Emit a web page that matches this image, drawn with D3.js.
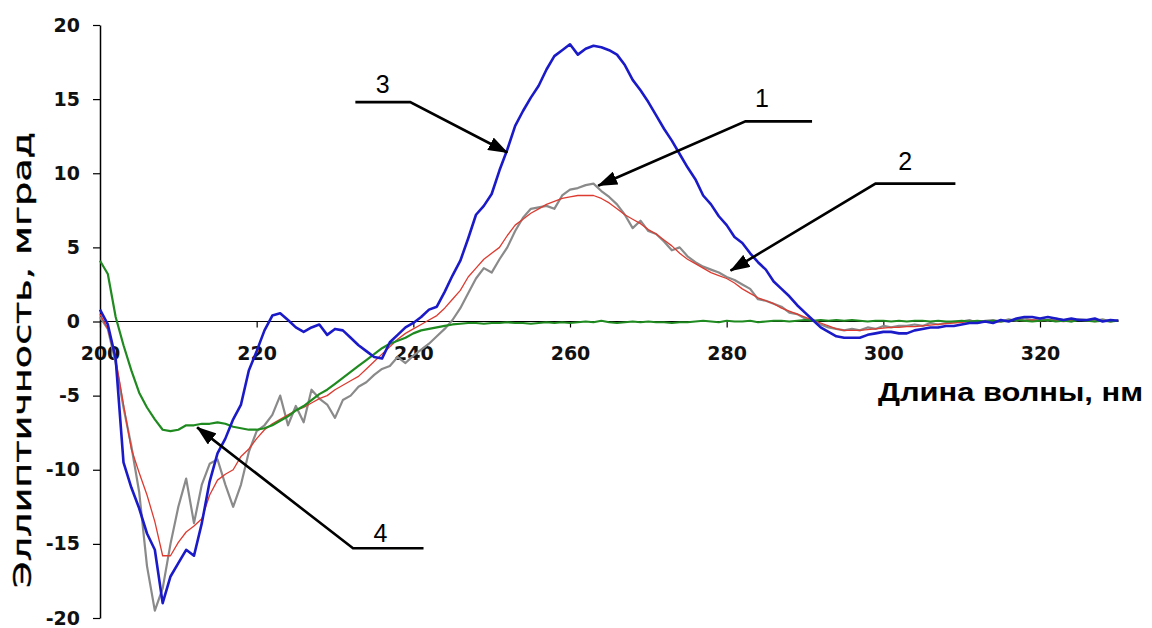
<!DOCTYPE html>
<html>
<head>
<meta charset="utf-8">
<script src="https://cdn.jsdelivr.net/npm/d3@7"></script>
<style>
  body { margin: 0; background: #fff; }
  .tick text { font-family: "DejaVu Sans", Verdana, sans-serif; font-weight: bold; font-size: 19px; fill: #111; }
</style>
</head>
<body>
<div id="chart"></div>
<script>
// wavelength grid, nm
var wavelength = d3.range(200, 331);

// curve 3 (blue)
var curve3 = [
  0.8, -0.2, -2.5, -9.5, -11.2, -12.6, -14.3, -15.4, -19.0, -17.2,
  -16.3, -15.4, -15.8, -13.6, -10.8, -8.9, -7.9, -6.6, -5.6, -3.3,
  -2.0, -0.6, 0.4, 0.55, 0.1, -0.4, -0.7, -0.4, -0.2, -0.9,
  -0.5, -0.6, -1.1, -1.6, -2.0, -2.4, -2.5, -1.4, -0.9, -0.4,
  -0.1, 0.3, 0.8, 1.0, 2.0, 3.1, 4.1, 5.6, 7.2, 7.8,
  8.6, 10.2, 11.6, 13.2, 14.2, 15.1, 15.9, 17.0, 17.9, 18.3,
  18.7, 18.0, 18.4, 18.6, 18.5, 18.3, 18.0, 17.3, 16.3, 15.6,
  14.8, 13.9, 13.0, 12.2, 11.3, 10.4, 9.6, 8.5, 7.9, 7.1,
  6.5, 5.7, 5.3, 4.6, 4.0, 3.5, 2.7, 2.2, 1.7, 1.1,
  0.6, 0.1, -0.4, -0.7, -1.0, -1.1, -1.1, -1.1, -0.9, -0.8,
  -0.7, -0.7, -0.8, -0.8, -0.6, -0.5, -0.4, -0.4, -0.3, -0.3,
  -0.2, -0.1, -0.1, 0.0, -0.1, 0.1, 0.0, 0.2, 0.3, 0.3,
  0.2, 0.3, 0.2, 0.1, 0.2, 0.1, 0.1, 0.2, 0.0, 0.1,
  0.05
];

// curve 2 (red)
var curve2 = [
  0.5, -0.5, -2.5, -5.6, -8.6, -10.2, -11.7, -13.5, -15.8, -15.8,
  -14.9, -14.2, -13.8, -13.3, -11.7, -10.7, -10.3, -10.0, -9.1, -8.6,
  -7.9, -7.3, -6.9, -6.6, -6.3, -6.0, -5.8, -5.5, -5.2, -5.0,
  -4.6, -4.3, -4.0, -3.7, -3.2, -2.7, -2.2, -1.7, -1.2, -0.8,
  -0.5, -0.2, 0.1, 0.4, 0.9, 1.5, 2.1, 3.0, 3.6, 4.2,
  4.6, 5.0, 5.8, 6.5, 6.9, 7.3, 7.6, 7.9, 8.1, 8.3,
  8.4, 8.5, 8.5, 8.5, 8.3, 8.0, 7.6, 7.2, 6.9, 6.6,
  6.2, 5.9, 5.5, 5.1, 4.6, 4.2, 3.9, 3.6, 3.3, 3.1,
  2.9, 2.6, 2.2, 1.9, 1.6, 1.4, 1.2, 0.9, 0.7, 0.5,
  0.3, 0.1, -0.1, -0.3, -0.5, -0.6, -0.6, -0.6, -0.55, -0.5,
  -0.45, -0.4, -0.4, -0.35, -0.35, -0.3, -0.25, -0.2, -0.15, -0.1,
  -0.05, 0.0, 0.05, 0.0, -0.05, 0.0, 0.05, 0.1, 0.05, 0.1,
  0.05, 0.1, 0.05, 0.0, 0.05, 0.1, 0.05, 0.0, 0.05, 0.0,
  0.05
];

// curve 1 (grey)
var curve1 = [
  0.3, -0.5, -2.8, -5.8, -8.4, -11.5, -16.5, -19.5, -18.0, -15.0,
  -12.5, -10.6, -13.6, -11.0, -9.6, -9.3, -11.0, -12.5, -11.0, -8.8,
  -7.4, -7.0, -6.3, -5.0, -7.0, -5.7, -6.8, -4.6, -5.2, -5.6,
  -6.5, -5.3, -5.0, -4.4, -4.1, -3.6, -3.2, -3.0, -2.4, -2.8,
  -2.3, -1.9, -1.5, -1.0, -0.5, 0.1, 0.9, 1.9, 2.9, 3.6,
  3.3, 4.2, 5.0, 6.1, 7.0, 7.6, 7.7, 7.8, 7.6, 8.5,
  8.9, 9.0, 9.2, 9.3, 8.8, 8.4, 7.9, 7.2, 6.3, 6.8,
  6.1, 5.9, 5.4, 4.8, 5.0, 4.4, 4.0, 3.7, 3.5, 3.3,
  3.0, 2.8, 2.5, 2.2, 1.5, 1.4, 1.2, 1.0, 0.6, 0.5,
  0.2, 0.1, -0.2, -0.4, -0.5, -0.6, -0.5, -0.6, -0.4, -0.5,
  -0.3, -0.4, -0.3, -0.3, -0.2, -0.3, -0.1, -0.2, -0.1, 0.0,
  0.0, 0.1, -0.1, 0.05, 0.1, 0.0, 0.15, 0.05, 0.2, 0.1,
  0.15, 0.05, 0.2, 0.1, 0.0, 0.15, 0.1, 0.05, 0.15, 0.0,
  0.1
];

// curve 4 (green)
var curve4 = [
  4.1, 3.2, 0.3, -1.6, -3.3, -4.8, -5.8, -6.6, -7.3, -7.4,
  -7.3, -7.0, -7.0, -6.9, -6.9, -6.8, -6.9, -7.1, -7.2, -7.3,
  -7.3, -7.2, -7.0, -6.7, -6.4, -6.0, -5.7, -5.3, -4.9, -4.6,
  -4.2, -3.8, -3.4, -3.0, -2.6, -2.2, -1.8, -1.5, -1.3, -1.1,
  -0.8, -0.6, -0.5, -0.4, -0.3, -0.2, -0.15, -0.1, -0.1, -0.15,
  -0.1, -0.1, -0.05, -0.1, -0.1, -0.15, -0.1, -0.05, -0.1, -0.05,
  -0.1, -0.05, 0.0, -0.05, 0.05, -0.05, -0.1, -0.05, 0.0, -0.05,
  0.0, -0.05, -0.05, -0.1, -0.05, -0.05, 0.0, 0.05, 0.0, -0.05,
  0.05, 0.0, 0.0, 0.05, -0.05, 0.0, 0.05, 0.05, 0.0, 0.05,
  0.1, 0.05, 0.1, 0.05, 0.1, 0.05, 0.1, 0.05, 0.0, 0.05,
  0.05, 0.0, 0.05, 0.0, 0.05, 0.05, 0.0, 0.05, 0.0, 0.0,
  0.05, 0.0, 0.05, 0.0, 0.05, 0.0, 0.05, 0.1, 0.05, 0.0,
  0.05, 0.1, 0.0, 0.05, 0.0, 0.1, 0.05, 0.0, 0.05, 0.0,
  0.05
];

var xTicks = [200, 220, 240, 260, 280, 300, 320];
var yTicks = [-20, -15, -10, -5, 0, 5, 10, 15, 20];

// callout labels: text, label position, elbow, end of shelf, arrow tip (nm, value)
var calloutText = ["3", "1", "2", "4"];
var calloutLabel = [[236.1, 16.0], [284.5, 15.1], [302.8, 10.8], [235.8, -14.3]];
var calloutShelf = [[232.6, 239.6, 14.8], [290.9, 282.4, 13.5], [309.2, 299.0, 9.3], [241.3, 232.3, -15.3]];
var calloutTip = [[252.0, 11.4], [263.6, 9.16], [280.5, 3.43], [212.4, -7.14]];

var svgWidth = 1152, svgHeight = 628;

var svg = d3.select("#chart").append("svg")
    .attr("width", svgWidth)
    .attr("height", svgHeight);

var x = d3.scaleLinear().domain([200, 320]).range([100, 1040]);
var y = d3.scaleLinear().domain([-20, 20]).range([618, 25]);

// arrow head
svg.append("defs").append("marker")
    .attr("id", "arrow")
    .attr("markerUnits", "userSpaceOnUse")
    .attr("viewBox", "0 0 20 14")
    .attr("markerWidth", 20)
    .attr("markerHeight", 14)
    .attr("refX", 19)
    .attr("refY", 7)
    .attr("orient", "auto")
  .append("path")
    .attr("d", "M0,0 L20,7 L0,14 Z")
    .attr("fill", "#000");

// zero line
svg.append("line")
    .attr("x1", x(200)).attr("x2", x(330))
    .attr("y1", y(0)).attr("y2", y(0))
    .attr("stroke", "#000").attr("stroke-width", 1.2);

// x ticks sit on the zero line
var xAxis = svg.append("g")
    .attr("transform", `translate(0, ${y(0)})`)
    .call(d3.axisBottom(x).tickValues(xTicks).tickSize(6).tickPadding(19).tickSizeOuter(0).tickFormat(d => String(d)));
xAxis.select(".domain").remove();
xAxis.selectAll(".tick line").attr("stroke", "#000").attr("stroke-width", 1.2);

var yAxis = svg.append("g")
    .attr("transform", `translate(${x(200)}, 0)`)
    .call(d3.axisLeft(y).tickValues(yTicks).tickSize(7).tickPadding(13).tickSizeOuter(0).tickFormat(d => String(d)));
yAxis.select(".domain").attr("stroke", "#000").attr("stroke-width", 1.5);
yAxis.selectAll(".tick line").attr("stroke", "#000").attr("stroke-width", 1.2);

var line = d3.line()
    .x((d, i) => x(wavelength[i]))
    .y(d => y(d));

var series = [
  { values: curve1, color: "#8a8a8a", width: 2.2 },
  { values: curve2, color: "#dd3b30", width: 1.3 },
  { values: curve4, color: "#1f8a1f", width: 2.2 },
  { values: curve3, color: "#1a1ac8", width: 2.6 }
];

svg.selectAll(".curve")
    .data(series)
    .enter()
    .append("path")
    .attr("class", "curve")
    .attr("d", d => line(d.values))
    .attr("fill", "none")
    .attr("stroke", d => d.color)
    .attr("stroke-width", d => d.width)
    .attr("stroke-linejoin", "round");

// callouts
calloutText.forEach(function(t, i) {
  var s = calloutShelf[i], tip = calloutTip[i];
  svg.append("polyline")
      .attr("points", [[x(s[0]), y(s[2])], [x(s[1]), y(s[2])], [x(tip[0]), y(tip[1])]].map(p => p.join(",")).join(" "))
      .attr("fill", "none")
      .attr("stroke", "#000")
      .attr("stroke-width", 2.6)
      .attr("marker-end", "url(#arrow)");
  svg.append("text")
      .attr("x", x(calloutLabel[i][0]))
      .attr("y", y(calloutLabel[i][1]))
      .attr("text-anchor", "middle")
      .attr("dominant-baseline", "central")
      .attr("font-family", "Liberation Sans, Arial, sans-serif")
      .attr("font-size", 25)
      .text(t);
});

// axis titles
svg.append("text")
    .attr("transform", "translate(31, 360) rotate(-90)")
    .attr("text-anchor", "middle")
    .attr("font-family", "DejaVu Sans, Verdana, sans-serif")
    .attr("font-size", 25)
    .attr("stroke", "#000")
    .attr("stroke-width", 0.4)
    .attr("textLength", 456)
    .attr("lengthAdjust", "spacingAndGlyphs")
    .text("Эллиптичность, мград");

svg.append("text")
    .attr("x", 878)
    .attr("y", 401)
    .attr("font-family", "Liberation Sans, Arial, sans-serif")
    .attr("font-size", 25)
    .attr("font-weight", "bold")
    .attr("textLength", 265)
    .attr("lengthAdjust", "spacingAndGlyphs")
    .text("Длина волны, нм");
</script>
</body>
</html>
